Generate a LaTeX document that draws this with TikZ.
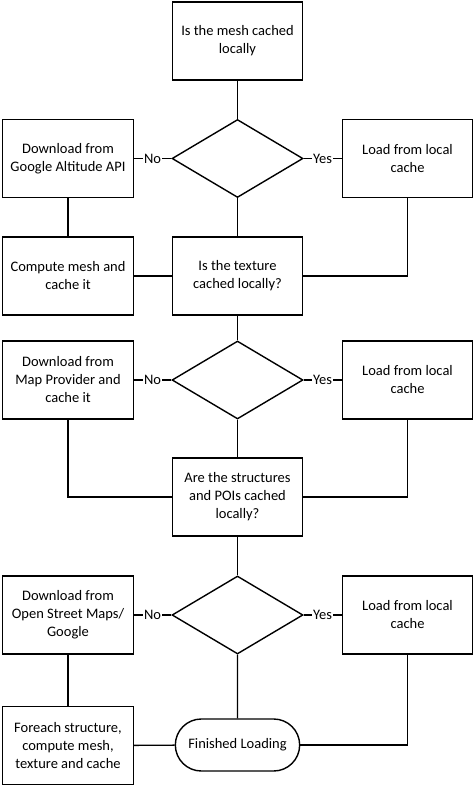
\documentclass[tikz,border=0pt]{standalone}
\usepackage{fontspec}
\setmainfont{Carlito}
\usetikzlibrary{shapes.geometric,shapes.misc}

\begin{document}
\begin{tikzpicture}[x=1pt, y=1pt, line width=1.4pt,
	every node/.style={font=\fontsize{14.5}{18}\selectfont},
	box/.style={draw, rectangle, align=center, minimum width=130.5pt, minimum height=78pt, inner sep=2pt},
	decision/.style={draw, diamond, minimum width=131pt, minimum height=78pt, inner sep=0pt},
	terminal/.style={draw, rounded rectangle, minimum width=131pt, minimum height=52pt},
	answer/.style={fill=white, inner sep=1pt}]
\useasboundingbox (0,0) rectangle (474,-786);
\node (meshq) [box] at (237.5,-41) {Is the mesh cached\\ locally};
\node (meshdec) [decision] at (237.5,-158.5) {};
\node (meshdl) [box] at (68,-158.5) {Download from\\ Google Altitude API};
\node (meshload) [box] at (407.5,-158.5) {Load from local\\ cache};
\node (meshcomp) [box] at (68,-276) {Compute mesh and\\ cache it};
\node (texq) [box] at (237.5,-276) {Is the texture\\ cached locally?};
\node (texdec) [decision] at (237.5,-380) {};
\node (texdl) [box] at (68,-380) {Download from\\ Map Provider and\\ cache it};
\node (texload) [box] at (407.5,-380) {Load from local\\ cache};
\node (poiq) [box] at (237.5,-497) {Are the structures\\ and POIs cached\\ locally?};
\node (poidec) [decision] at (237.5,-615) {};
\node (poidl) [box] at (68,-615) {Download from\\ Open Street Maps/\\ Google};
\node (poiload) [box] at (407.5,-615) {Load from local\\ cache};
\node (poicomp) [box] at (68,-745.5) {Foreach structure,\\ compute mesh,\\ texture and cache};
\node (done) [terminal] at (237.5,-745) {Finished Loading};
\path
(meshq) edge (meshdec)
(meshdec) edge node [answer] {No} (meshdl)
	edge node [answer] {Yes} (meshload)
	edge (texq)
(meshdl) edge (meshcomp)
(meshcomp) edge (texq)
(texq) edge (texdec)
(texdec) edge node [answer] {No} (texdl)
	edge node [answer] {Yes} (texload)
	edge (poiq)
(poiq) edge (poidec)
(poidec) edge node [answer] {No} (poidl)
	edge node [answer] {Yes} (poiload)
	edge (done)
(poidl) edge (poicomp)
(poicomp) edge (done);
\draw (meshload) |- (texq);
\draw (texdl) |- (poiq);
\draw (texload) |- (poiq);
\draw (poiload) |- (done);
\end{tikzpicture}
\end{document}
